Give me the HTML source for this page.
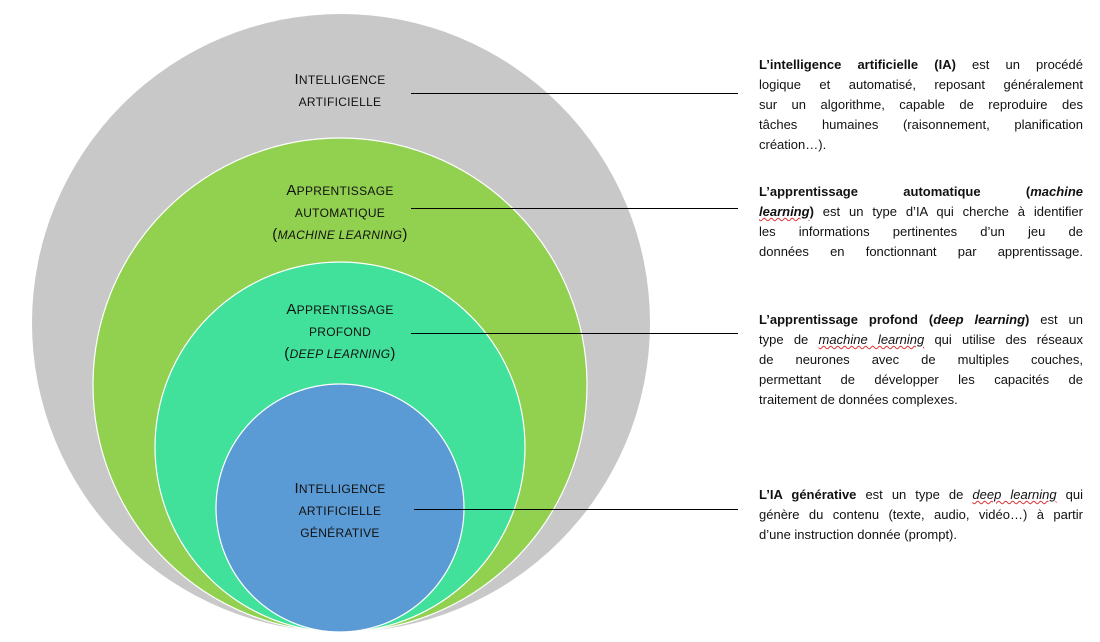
<!DOCTYPE html>
<html><head><meta charset="utf-8"><style>
body{margin:0;width:1100px;height:642px;background:#fff;position:relative;overflow:hidden;font-family:"Liberation Sans",sans-serif;}
svg{position:absolute;left:0;top:0}
.lab{position:absolute;width:200px;text-align:center;font-size:12px;line-height:22px;text-transform:uppercase;letter-spacing:0.3px;color:#111;}
.lab .c{font-size:15px}
.blk{position:absolute;left:759px;width:324px;font-size:13px;line-height:20px;color:#111;}
.blk div{text-align:justify;text-align-last:justify;white-space:nowrap}
.blk div.l{text-align-last:left}
u{text-decoration:underline wavy #d33;text-decoration-thickness:1px}
</style></head><body>
<svg width="1100" height="642">
<circle cx="341" cy="323" r="309" fill="#c8c8c8"/>
<circle cx="340" cy="385" r="247" fill="#92d050" stroke="#fff" stroke-width="1.2"/>
<circle cx="340" cy="447" r="185" fill="#41e19b" stroke="#fff" stroke-width="1.2"/>
<circle cx="340" cy="508" r="124" fill="#5b9bd5" stroke="#fff" stroke-width="1.2"/>
<g stroke="#000" stroke-width="1">
<line x1="411" y1="93.5" x2="738" y2="93.5"/>
<line x1="411" y1="208.5" x2="738" y2="208.5"/>
<line x1="411" y1="333.5" x2="738" y2="333.5"/>
<line x1="414" y1="509.5" x2="738" y2="509.5"/>
</g>
</svg>
<div class="lab" style="left:240px;top:69px"><span class="c">I</span>ntelligence<br>artificielle</div>
<div class="lab" style="left:240px;top:180px"><span class="c">A</span>pprentissage<br>automatique<br><span class="c">(</span><i>machine learning</i><span class="c">)</span></div>
<div class="lab" style="left:240px;top:299px"><span class="c">A</span>pprentissage<br>profond<br><span class="c">(</span><i>deep learning</i><span class="c">)</span></div>
<div class="lab" style="left:240px;top:478px"><span class="c">I</span>ntelligence<br>artificielle<br>générative</div>

<div class="blk" style="top:55px">
<div><b>L’intelligence artificielle (IA)</b> est un procédé</div>
<div>logique et automatisé, reposant généralement</div>
<div>sur un algorithme, capable de reproduire des</div>
<div>tâches humaines (raisonnement, planification</div>
<div class="l">création…).</div>
</div>
<div class="blk" style="top:182px">
<div><b>L’apprentissage automatique (<i>machine</i></b></div>
<div><b><i><u>learning</u></i>)</b> est un type d’IA qui cherche à identifier</div>
<div>les informations pertinentes d’un jeu de</div>
<div>données en fonctionnant par apprentissage.</div>
</div>
<div class="blk" style="top:310px">
<div><b>L’apprentissage profond (<i>deep learning</i>)</b> est un</div>
<div>type de <i><u>machine learning</u></i> qui utilise des réseaux</div>
<div>de neurones avec de multiples couches,</div>
<div>permettant de développer les capacités de</div>
<div class="l">traitement de données complexes.</div>
</div>
<div class="blk" style="top:485px">
<div><b>L’IA générative</b> est un type de <i><u>deep learning</u></i> qui</div>
<div>génère du contenu (texte, audio, vidéo…) à partir</div>
<div class="l">d’une instruction donnée (prompt).</div>
</div>
</body></html>
